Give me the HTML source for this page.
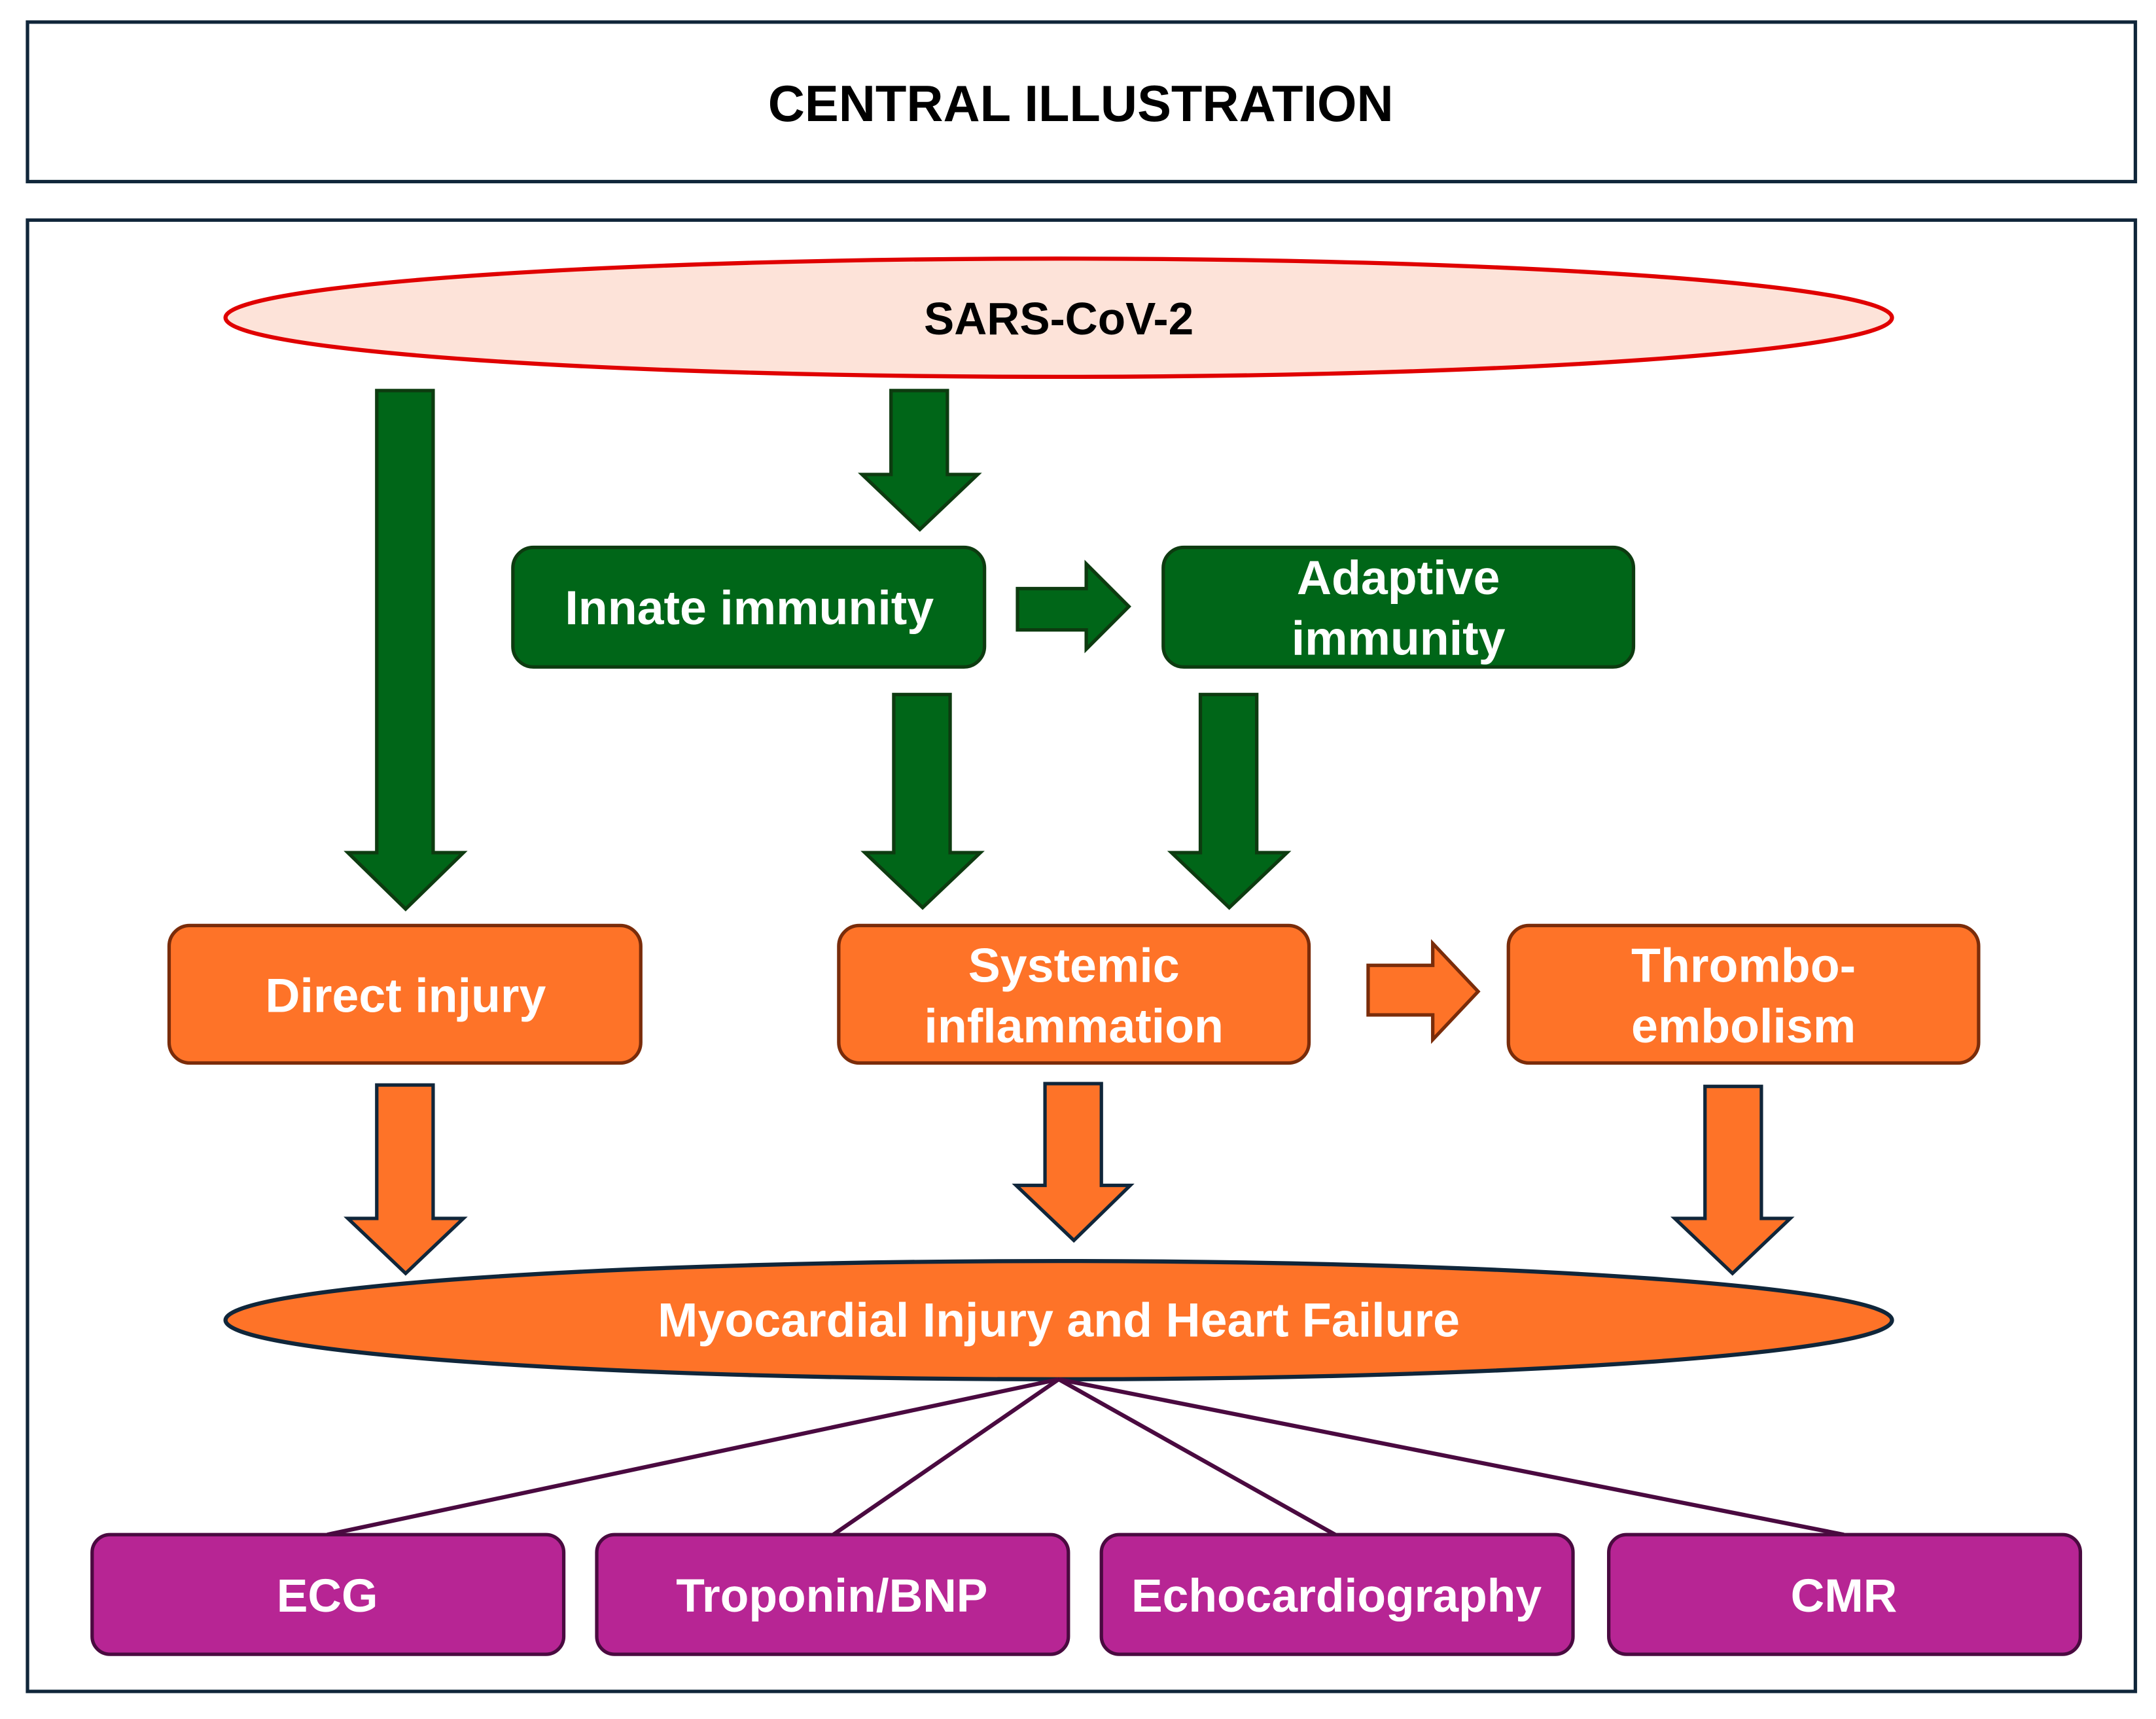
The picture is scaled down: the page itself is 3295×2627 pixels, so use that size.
<!DOCTYPE html>
<html><head><meta charset="utf-8"><style>
html,body{margin:0;padding:0;background:#fff;}
svg{display:block;}
text{font-family:"Liberation Sans",sans-serif;font-weight:bold;}
</style></head><body>
<svg width="3295" height="2627" viewBox="0 0 1568 1250" xmlns="http://www.w3.org/2000/svg">
<rect x="0" y="0" width="1568" height="1250" fill="#fff"/>
<rect x="20" y="16" width="1533" height="116" fill="#fff" stroke="#10263a" stroke-width="2.5"/>
<text x="786" y="88" font-size="37" text-anchor="middle" fill="#000">CENTRAL ILLUSTRATION</text>
<rect x="20" y="160" width="1533" height="1070" fill="#fff" stroke="#10263a" stroke-width="2.5"/>

<ellipse cx="770" cy="231" rx="606" ry="43" fill="#fde3d9" stroke="#e00000" stroke-width="3"/>
<text x="770" y="243" font-size="33" text-anchor="middle" fill="#000">SARS-CoV-2</text>

<g fill="#006618" stroke="#0d3b10" stroke-width="2.5" stroke-linejoin="miter">
<polygon points="274,284 315,284 315,620 337,620 295,661 253,620 274,620"/>
<polygon points="648,284 689,284 689,345 711,345 669,385 627,345 648,345"/>
<polygon points="650,505 691,505 691,620 713,620 671,660 629,620 650,620"/>
<polygon points="873,505 914,505 914,620 936,620 894,660 852,620 873,620"/>
<polygon points="740,428 790,428 790,410 821,441 790,472 790,458 740,458"/>
<rect x="373" y="398" width="343" height="87" rx="15" ry="15"/>
<rect x="846" y="398" width="342" height="87" rx="15" ry="15"/>
</g>
<text x="545" y="454" font-size="35" text-anchor="middle" fill="#fff">Innate immunity</text>
<text x="1017" y="432" font-size="35" text-anchor="middle" fill="#fff">Adaptive</text>
<text x="1017" y="476" font-size="35" text-anchor="middle" fill="#fff">immunity</text>

<g fill="#fe7328" stroke="#7a2c0a" stroke-width="2.5">
<rect x="123" y="673" width="343" height="100" rx="15" ry="15"/>
<rect x="610" y="673" width="342" height="100" rx="15" ry="15"/>
<rect x="1097" y="673" width="342" height="100" rx="15" ry="15"/>
<polygon points="995,702 1042,702 1042,686 1075,721 1042,756 1042,738 995,738"/>
</g>
<text x="295" y="736" font-size="35" text-anchor="middle" fill="#fff">Direct injury</text>
<text x="781" y="714" font-size="35" text-anchor="middle" fill="#fff">Systemic</text>
<text x="781" y="758" font-size="35" text-anchor="middle" fill="#fff">inflammation</text>
<text x="1268" y="714" font-size="35" text-anchor="middle" fill="#fff">Thrombo-</text>
<text x="1268" y="758" font-size="35" text-anchor="middle" fill="#fff">embolism</text>

<g fill="#fe7328" stroke="#10263a" stroke-width="2.5">
<polygon points="274,789 315,789 315,886 337,886 295,926 253,886 274,886"/>
<polygon points="760,788 801,788 801,862 822,862 781,902 739,862 760,862"/>
<polygon points="1240,790 1281,790 1281,886 1302,886 1260,926 1218,886 1240,886"/>
<ellipse cx="770" cy="960" rx="606" ry="43" stroke-width="3"/>
</g>
<text x="770" y="972" font-size="35" text-anchor="middle" fill="#fff">Myocardial Injury and Heart Failure</text>

<g stroke="#4a0a40" stroke-width="3">
<line x1="770" y1="1003" x2="238" y2="1116"/>
<line x1="770" y1="1003" x2="606" y2="1116"/>
<line x1="770" y1="1003" x2="971" y2="1116"/>
<line x1="770" y1="1003" x2="1341" y2="1116"/>
</g>
<g fill="#b72594" stroke="#4a0a40" stroke-width="2.5">
<rect x="67" y="1116" width="343" height="87" rx="13" ry="13"/>
<rect x="434" y="1116" width="343" height="87" rx="13" ry="13"/>
<rect x="801" y="1116" width="343" height="87" rx="13" ry="13"/>
<rect x="1170" y="1116" width="343" height="87" rx="13" ry="13"/>
</g>
<g font-size="34" text-anchor="middle" fill="#fff">
<text x="238" y="1172">ECG</text>
<text x="605" y="1172">Troponin/BNP</text>
<text x="972" y="1172">Echocardiography</text>
<text x="1341" y="1172">CMR</text>
</g>
</svg>
</body></html>
